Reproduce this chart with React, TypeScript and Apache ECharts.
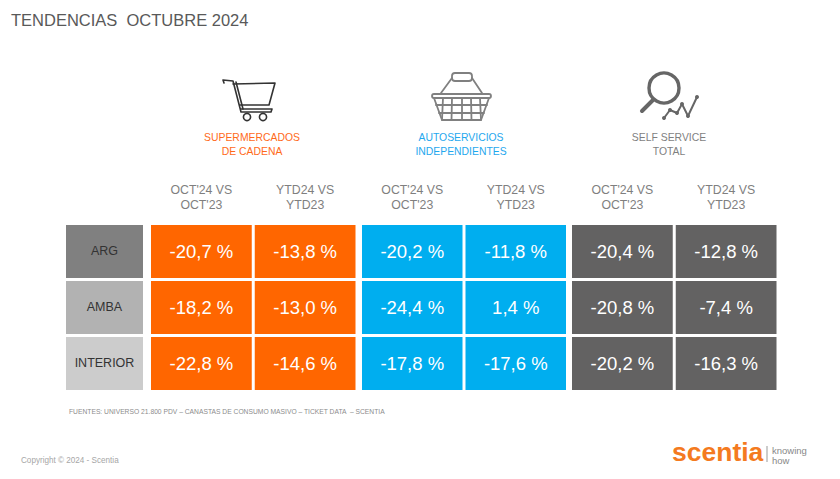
import React, { useEffect, useRef } from "react";
import * as echarts from "echarts";

const TITLE = "TENDENCIAS  OCTUBRE 2024";
const regions = ["ARG", "AMBA", "INTERIOR"];
const regionColors = ["#808080", "#b2b2b2", "#cccccc"];
const periods = ["OCT'24 VS\nOCT'23", "YTD24 VS\nYTD23"];
const supermercados = [[-20.7, -13.8], [-18.2, -13.0], [-22.8, -14.6]];
const autoservicios = [[-20.2, -11.8], [-24.4, 1.4], [-17.8, -17.6]];
const selfService = [[-20.4, -12.8], [-20.8, -7.4], [-20.2, -16.3]];
const FOOT = "FUENTES: UNIVERSO 21.800 PDV – CANASTAS DE CONSUMO MASIVO – TICKET DATA  – SCENTIA";
const COPY = "Copyright © 2024 - Scentia";

const ORANGE = "#ff6600";
const BLUE = "#00aeef";
const DARK = "#636262";
const FONT = "'Liberation Sans', sans-serif";
const GAP = 3;

const toCells = (m: number[][]) => m.flatMap((row, y) => row.map((v, x) => [x, y, v]));
const fmt = (v: number) => v.toFixed(1).replace(".", ",") + " %";

const GRID_TOP = 223.5;
const GRID_H = 168;
const groups = [
  { left: 149.5, width: 207.5, color: ORANGE, data: supermercados },
  { left: 360.5, width: 207, color: BLUE, data: autoservicios },
  { left: 570.5, width: 207.5, color: DARK, data: selfService },
];

// One table cell: a rectangle placed by the axes, with its text in the middle.
const cellItem = (
  api: any,
  fill: string,
  label: string,
  textFill: string,
  fontSize: number,
  dy: number,
) => {
  const [cx, cy] = api.coord([api.value(0), api.value(1)]);
  const [w, h] = api.size([1, 1]);
  return {
    type: "group",
    silent: true,
    children: [
      {
        type: "rect",
        shape: { x: cx - w / 2 + GAP / 2, y: cy - h / 2 + GAP / 2, width: w - GAP, height: h - GAP },
        style: { fill },
      },
      {
        type: "text",
        x: cx,
        y: cy + dy,
        style: { text: label, fill: textFill, fontSize, fontFamily: FONT, align: "center", verticalAlign: "middle" },
      },
    ],
  };
};

function buildOption() {
  const grids: any[] = [{ left: 64.5, width: 80, top: GRID_TOP, height: GRID_H }];
  const xAxes: any[] = [{ gridIndex: 0, type: "category", data: [""], show: false }];
  const yAxes: any[] = [{ gridIndex: 0, type: "category", data: regions, inverse: true, show: false }];
  const series: any[] = [
    {
      type: "custom",
      xAxisIndex: 0,
      yAxisIndex: 0,
      data: regions.map((_, i) => [0, i]),
      renderItem: (p: any, api: any) =>
        cellItem(api, regionColors[p.dataIndex], regions[p.dataIndex], "#333", 12.5, -1),
    },
  ];
  groups.forEach((g, i) => {
    const idx = i + 1;
    grids.push({ left: g.left, width: g.width, top: GRID_TOP, height: GRID_H });
    xAxes.push({
      gridIndex: idx,
      type: "category",
      position: "top",
      data: periods,
      axisLine: { show: false },
      axisTick: { show: false },
      axisLabel: { color: "#7f7f7f", fontFamily: FONT, fontSize: 12.3, lineHeight: 14.5, margin: 11.5 },
    });
    yAxes.push({ gridIndex: idx, type: "category", data: regions, inverse: true, show: false });
    series.push({
      type: "custom",
      xAxisIndex: idx,
      yAxisIndex: idx,
      data: toCells(g.data),
      renderItem: (_p: any, api: any) => cellItem(api, g.color, fmt(api.value(2)), "#fff", 18.5, 0),
    });
  });

  const stroke = (color: string, lineWidth: number) => ({
    stroke: color,
    lineWidth,
    fill: "none",
    lineCap: "round",
    lineJoin: "round",
  });
  const line = (x1: number, y1: number, x2: number, y2: number, s: any) => ({
    type: "line",
    shape: { x1, y1, x2, y2 },
    style: s,
  });
  const poly = (points: number[][], s: any) => ({ type: "polyline", shape: { points }, style: s });
  const text = (x: number, y: number, t: string, style: any) => ({
    type: "text",
    x,
    y,
    style: { text: t, fontFamily: FONT, ...style },
  });
  const groupTitle = (x: number, t: string, fill: string) =>
    text(x, 130, t, { fill, fontSize: 10.4, lineHeight: 14, align: "center" });

  const cart = stroke("#333", 1.6);
  const bk = stroke("#808080", 1.8);
  const mg = stroke("#666", 2);
  const mgDots = [[664, 118], [670, 110], [677, 113], [682, 104], [688, 116], [697, 97]];

  const graphic: any[] = [
    text(11, 11, TITLE, { fill: "#595959", fontSize: 16.5 }),
    groupTitle(252, "SUPERMERCADOS\nDE CADENA", "#ff6a1a"),
    groupTitle(461, "AUTOSERVICIOS\nINDEPENDIENTES", "#1fa8ee"),
    groupTitle(669, "SELF SERVICE\nTOTAL", "#7f7f7f"),
    // cart
    poly([[224, 83], [223, 80], [233, 81], [241, 112], [271, 112], [272, 109], [241, 109]], cart),
    poly([[233, 84], [275, 83], [269, 105], [240, 105]], cart),
    line(236, 82, 243, 109, cart),
    { type: "circle", shape: { cx: 247, cy: 117, r: 3.6 }, style: { ...cart, fill: "#fff" } },
    { type: "circle", shape: { cx: 263, cy: 117, r: 3.6 }, style: { ...cart, fill: "#fff" } },
    // basket
    { type: "rect", shape: { x: 452, y: 73, width: 20, height: 8, r: 3 }, style: bk },
    poly([[452, 78], [441, 93]], bk),
    poly([[472, 78], [482, 93]], bk),
    { type: "rect", shape: { x: 432, y: 94, width: 59, height: 4, r: 2 }, style: bk },
    poly([[434, 98], [442, 120], [481, 120], [489, 98]], bk),
    ...[443, 452, 462, 471, 480].map((x, i) => line(x, 98, x + (i - 2) * 0.5, 120, bk)),
    line(436, 105, 487, 105, bk),
    line(439, 113, 484, 113, bk),
    // magnifier
    { type: "circle", shape: { cx: 664, cy: 88, r: 15 }, style: stroke("#666", 3.4) },
    line(653, 100, 642, 111, stroke("#666", 4)),
    poly(mgDots, mg),
    ...mgDots.map(([cx, cy]) => ({ type: "circle", shape: { cx, cy, r: 2 }, style: { fill: "#666" } })),
    // footer
    text(69, 408, FOOT, { fill: "#8c8c8c", fontSize: 6.73 }),
    text(21, 456, COPY, { fill: "#a6a6a6", fontSize: 8.15 }),
    text(672, 438, "scentia", {
      fill: "#f47a20",
      fontSize: 26.5,
      fontWeight: "bold",
    }),
    line(767, 446, 767, 462, { stroke: "#999", lineWidth: 1 }),
    text(772, 445, "knowing", { fill: "#888", fontSize: 9.5 }),
    text(772, 455, "how", { fill: "#888", fontSize: 9.5 }),
  ];

  return {
    animation: false,
    backgroundColor: "#fff",
    tooltip: { show: false },
    grid: grids,
    xAxis: xAxes,
    yAxis: yAxes,
    series,
    graphic,
  };
}

export default function App() {
  const ref = useRef<HTMLDivElement>(null);
  useEffect(() => {
    document.body.style.margin = "0";
    const chart = echarts.init(ref.current!, undefined, { renderer: "svg" });
    chart.setOption(buildOption() as any);
    return () => chart.dispose();
  }, []);
  return <div ref={ref} style={{ width: 840, height: 479 }} />;
}
